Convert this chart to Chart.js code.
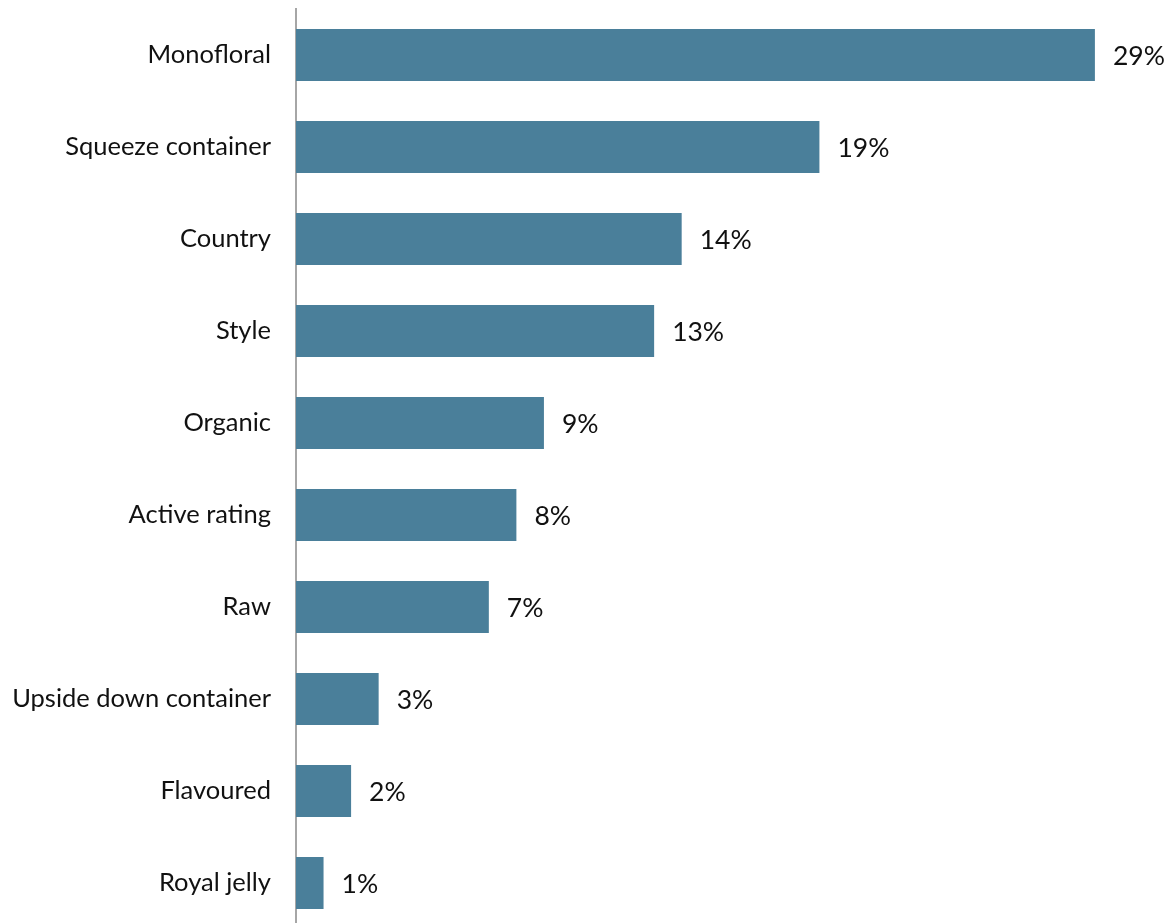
<!DOCTYPE html>
<html>
<head>
<meta charset="utf-8">
<script src="https://cdn.jsdelivr.net/npm/chart.js@4.4.0/dist/chart.umd.min.js"></script>
<style>
  html, body { margin: 0; padding: 0; background: #fff; overflow: hidden; }
  canvas { display: block; }
</style>
</head>
<body>
<canvas id="chart" width="1169" height="932"></canvas>
<script>
const categories = [
  "Monofloral", "Squeeze container", "Country", "Style", "Organic",
  "Active rating", "Raw", "Upside down container", "Flavoured", "Royal jelly"
];
const shares = [29, 19, 14, 13, 9, 8, 7, 3, 2, 1];
const valueLabels = ["29%", "19%", "14%", "13%", "9%", "8%", "7%", "3%", "2%", "1%"];

const FONT = "Lato, 'Open Sans', sans-serif";

// Writes the percentage just past the end of each bar
const barValueLabels = {
  id: "barValueLabels",
  afterDatasetsDraw(chart) {
    const ctx = chart.ctx;
    const meta = chart.getDatasetMeta(0);
    ctx.save();
    ctx.font = "26.5px " + FONT;
    ctx.fillStyle = "#111";
    ctx.textAlign = "left";
    ctx.textBaseline = "middle";
    meta.data.forEach((bar, i) => {
      ctx.fillText(valueLabels[i], bar.x + 18, bar.y + 1);
    });
    ctx.restore();
  }
};

new Chart(document.getElementById("chart"), {
  type: "bar",
  data: {
    labels: categories,
    datasets: [{
      data: shares,
      backgroundColor: "#4a7f9a",
      borderWidth: 0,
      barPercentage: 0.565,
      categoryPercentage: 1
    }]
  },
  options: {
    indexAxis: "y",
    responsive: false,
    animation: false,
    layout: { padding: { top: 9, bottom: 3, right: 19, left: 0 } },
    plugins: { legend: { display: false }, tooltip: { enabled: false } },
    scales: {
      x: {
        display: false,
        min: 0,
        max: 31
      },
      y: {
        afterFit(scale) {
          scale.width = 296;
          scale.paddingTop = 0;
          scale.paddingBottom = 0;
        },
        grid: { display: false, drawTicks: false },
        border: { display: true, color: "#a6a6a6", width: 2 },
        ticks: {
          color: "#111",
          padding: 25,
          font: { family: FONT, size: 25.5 }
        }
      }
    }
  },
  plugins: [barValueLabels]
});
</script>
</body>
</html>
